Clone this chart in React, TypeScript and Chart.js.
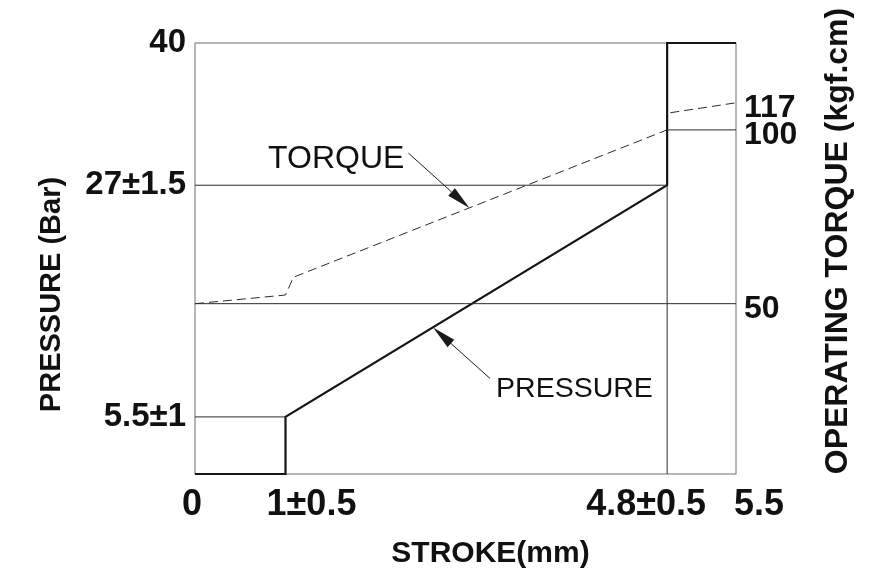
import React, { useEffect, useRef } from "react";
import { Chart, registerables } from "chart.js";

Chart.register(...registerables);

// ---- data ----
const strokeTicks = [0, 0.92, 4.8, 5.5];
const strokeTickLabels = ["0", "1±0.5", "4.8±0.5", "5.5"];

const pressureTicks = [40, 26.8, 5.3];
const pressureTickLabels = ["40", "27±1.5", "5.5±1"];

const torqueTicks = [50, 100, 107.8];
const torqueTickLabels = ["50", "100", "117"];

const pressureStroke = [0, 0.92, 0.92, 4.8, 4.8, 5.5];
const pressureValues = [0, 0, 5.3, 26.8, 40, 40];

const torqueStroke = [0, 0.92, 1.0, 4.8, 4.8, 5.5];
const torqueValues = [50, 52.5, 57.6, 100, 104.8, 107.8];

// reference lines (pressure axis)
const refP27Stroke = [0, 4.8];
const refP27Values = [26.8, 26.8];
const refP55Stroke = [0, 0.92];
const refP55Values = [5.3, 5.3];
const refV48Stroke = [4.8, 4.8];
const refV48Values = [0, 26.8];
// reference lines (torque axis)
const refT50Stroke = [0, 5.5];
const refT50Values = [50, 50];
const refT100Stroke = [4.8, 5.5];
const refT100Values = [100, 100];

// annotation anchor points (on the curves)
const torqueArrowAt = [2.79, 77.5];
const pressureArrowAt = [2.42, 13.6];

const FONT = '"Liberation Sans", Arial, sans-serif';
const xLabelShift = [-3, 26, -21, 23];

const pts = (xs: number[], ys: number[]) => xs.map((x, i) => ({ x, y: ys[i] }));

function arrow(ctx: CanvasRenderingContext2D, x0: number, y0: number, x1: number, y1: number) {
  ctx.save();
  ctx.strokeStyle = "#1a1a1a";
  ctx.fillStyle = "#1a1a1a";
  ctx.lineWidth = 1;
  const ang = Math.atan2(y1 - y0, x1 - x0);
  const L = 24, W = 5;
  const bx = x1 - L * Math.cos(ang), by = y1 - L * Math.sin(ang);
  ctx.beginPath();
  ctx.moveTo(x0, y0);
  ctx.lineTo(bx, by);
  ctx.stroke();
  ctx.beginPath();
  ctx.moveTo(x1, y1);
  ctx.lineTo(bx + W * Math.sin(ang), by - W * Math.cos(ang));
  ctx.lineTo(bx - W * Math.sin(ang), by + W * Math.cos(ang));
  ctx.closePath();
  ctx.fill();
  ctx.restore();
}

const drawPlugin = {
  id: "drawing",
  beforeDatasetsDraw(chart: any) {
    const { ctx, chartArea: ca } = chart;
    ctx.save();
    ctx.strokeStyle = "#6e6e6e";
    ctx.lineWidth = 1;
    ctx.strokeRect(ca.left, ca.top, ca.right - ca.left, ca.bottom - ca.top);
    ctx.restore();
  },
  afterDraw(chart: any) {
    const { ctx, chartArea: ca } = chart;
    const xs = chart.scales.x, ys = chart.scales.y, y2 = chart.scales.y2;
    ctx.save();
    ctx.fillStyle = "#111";
    // x tick labels
    ctx.font = `bold 36px ${FONT}`;
    ctx.textAlign = "center";
    ctx.textBaseline = "alphabetic";
    strokeTicks.forEach((v, i) => {
      ctx.fillText(strokeTickLabels[i], xs.getPixelForValue(v) + xLabelShift[i], ca.bottom + 41);
    });
    // x title
    ctx.font = `bold 30px ${FONT}`;
    ctx.fillText("STROKE(mm)", (ca.left + ca.right) / 2 + 25, ca.bottom + 88);
    // left title
    ctx.save();
    ctx.font = `bold 29px ${FONT}`;
    ctx.translate(60, (ca.top + ca.bottom) / 2 + 36);
    ctx.rotate(-Math.PI / 2);
    ctx.fillText("PRESSURE (Bar)", 0, 0);
    ctx.restore();
    // right title
    ctx.save();
    ctx.font = `bold 32px ${FONT}`;
    ctx.translate(847, 241);
    ctx.rotate(-Math.PI / 2);
    ctx.fillText("OPERATING TORQUE (kgf.cm)", 0, 0);
    ctx.restore();

    // annotations
    const tx = xs.getPixelForValue(torqueArrowAt[0]);
    const ty = y2.getPixelForValue(torqueArrowAt[1]);
    arrow(ctx, tx - 61, ty - 55, tx, ty);
    ctx.font = `32px ${FONT}`;
    ctx.textAlign = "right";
    ctx.fillText("TORQUE", tx - 65, ty - 40);
    const px = xs.getPixelForValue(pressureArrowAt[0]);
    const py = ys.getPixelForValue(pressureArrowAt[1]);
    arrow(ctx, px + 57, py + 51, px, py);
    ctx.font = `28.5px ${FONT}`;
    ctx.textAlign = "left";
    ctx.fillText("PRESSURE", px + 63, py + 70);
    ctx.restore();
  },
};

const thin = (data: any[], axis: string) => ({
  data,
  yAxisID: axis,
  borderColor: "#2b2b2b",
  borderWidth: 1,
  pointRadius: 0,
  fill: false,
  tension: 0,
  clip: false as any,
});

export default function App() {
  const ref = useRef<HTMLCanvasElement | null>(null);
  useEffect(() => {
    document.body.style.margin = "0";
    const chart = new Chart(ref.current as HTMLCanvasElement, {
      type: "line",
      data: {
        datasets: [
          thin(pts(refP27Stroke, refP27Values), "y"),
          thin(pts(refP55Stroke, refP55Values), "y"),
          thin(pts(refV48Stroke, refV48Values), "y"),
          thin(pts(refT50Stroke, refT50Values), "y2"),
          thin(pts(refT100Stroke, refT100Values), "y2"),
          {
            label: "PRESSURE",
            data: pts(pressureStroke, pressureValues),
            yAxisID: "y",
            borderColor: "#151515",
            borderWidth: 2.2,
            pointRadius: 0,
            tension: 0,
            clip: false as any,
          },
          {
            label: "TORQUE",
            data: pts(torqueStroke, torqueValues),
            yAxisID: "y2",
            borderColor: "#2b2b2b",
            borderWidth: 1,
            borderDash: [9, 5],
            pointRadius: 0,
            tension: 0,
            clip: false as any,
          },
        ],
      },
      options: {
        responsive: false,
        animation: false,
        devicePixelRatio: 1,
        layout: { padding: { top: 43, left: 0, right: 0, bottom: 0 } },
        plugins: { legend: { display: false }, tooltip: { enabled: false } },
        scales: {
          x: {
            type: "linear",
            min: 0,
            max: 5.5,
            grid: { display: false, drawTicks: false },
            border: { display: false },
            ticks: { display: false },
            afterFit: (s: any) => { s.height = 108; },
          },
          y: {
            type: "linear",
            position: "left",
            min: 0,
            max: 40,
            grid: { display: false, drawTicks: false },
            border: { display: false },
            afterBuildTicks: (s: any) => { s.ticks = pressureTicks.map((v) => ({ value: v })); },
            ticks: {
              autoSkip: false,
              padding: 9,
              color: "#111",
              font: { family: FONT, weight: "bold", size: 33 },
              callback: (_v: any, i: number) => pressureTickLabels[i],
            },
            afterFit: (s: any) => { s.width = 195; },
          },
          y2: {
            type: "linear",
            position: "right",
            min: 1,
            max: 125,
            grid: { display: false, drawTicks: false },
            border: { display: false },
            afterBuildTicks: (s: any) => { s.ticks = torqueTicks.map((v) => ({ value: v })); },
            ticks: {
              autoSkip: false,
              padding: 8,
              labelOffset: 5,
              color: "#111",
              font: { family: FONT, weight: "bold", size: 32 },
              callback: (_v: any, i: number) => torqueTickLabels[i],
            },
            afterFit: (s: any) => { s.width = 146; },
          },
        },
      } as any,
      plugins: [drawPlugin],
    });
    return () => chart.destroy();
  }, []);
  return (
    <div style={{ position: "fixed", left: 0, top: 0, width: 882, height: 582, background: "#fff" }}>
      <canvas ref={ref} width={882} height={582} />
    </div>
  );
}
